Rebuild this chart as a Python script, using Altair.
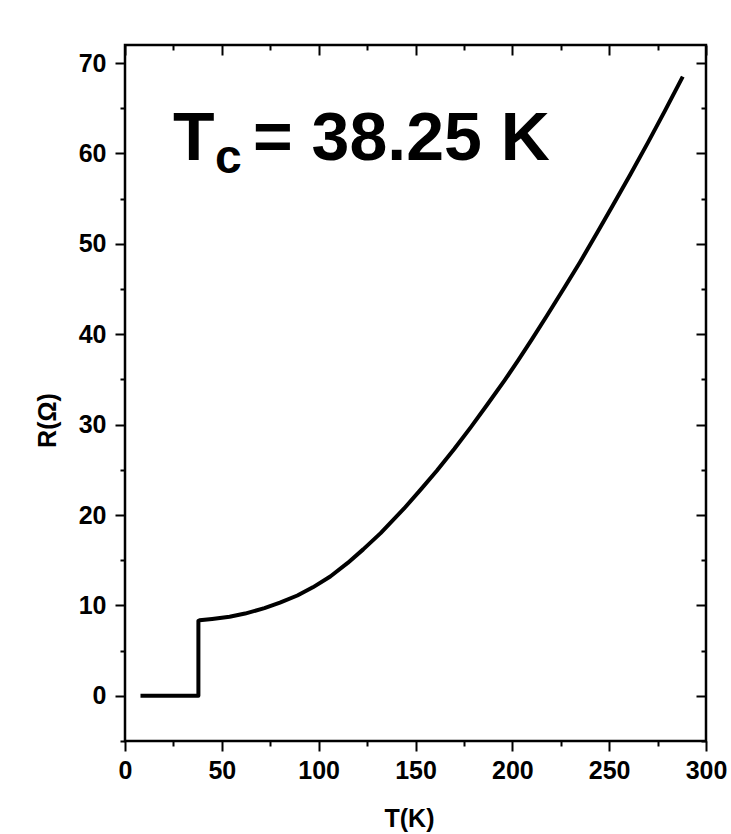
import altair as alt
import pandas as pd

# Resistance vs temperature
temperature_K = [8, 20, 30, 37.9, 37.9, 38.5, 45, 54, 62, 72, 80, 89, 97, 106,
                 115, 123, 132, 144, 153, 161, 170, 178.5, 187, 196, 203, 210,
                 218, 227, 235, 244, 252, 261, 270, 278.5, 288]
resistance_ohm = [0, 0, 0, 0, 8.3, 8.35, 8.5, 8.75, 9.1, 9.7, 10.3, 11.1, 12.0,
                  13.2, 14.7, 16.2, 18.0, 20.7, 22.9, 24.9, 27.3, 29.7, 32.2,
                  34.9, 37.1, 39.4, 42.1, 45.2, 48.0, 51.3, 54.3, 57.7, 61.2,
                  64.6, 68.5]

x_ticks = [0, 25, 50, 75, 100, 125, 150, 175, 200, 225, 250, 275, 300]
y_ticks = [-5, 0, 5, 10, 15, 20, 25, 30, 35, 40, 45, 50, 55, 60, 65, 70]
x_domain = [0, 300]
y_domain = [-5, 72]

annotation_main = "T"
annotation_sub = "c"
annotation_rest = "= 38.25 K"

df = pd.DataFrame({"T": temperature_K, "R": resistance_ohm,
                   "order": list(range(len(temperature_K)))})

W, H = 581, 696
FONT = "Liberation Sans"

tick_major_x = {"condition": {"test": "datum.value % 50 !== 0", "value": 5}, "value": 10}
tick_major_y = {"condition": {"test": "datum.value % 10 !== 0", "value": 5}, "value": 10}

x_scale = alt.Scale(domain=x_domain, nice=False, zero=False)
y_scale = alt.Scale(domain=y_domain, nice=False, zero=False)

main = alt.Chart(df).mark_line(color="black", strokeWidth=4, strokeJoin="round",
                               strokeCap="butt").encode(
    x=alt.X("T:Q", scale=x_scale,
            axis=alt.Axis(orient="bottom", values=x_ticks, title="T(K)",
                          labelExpr="datum.value % 50 === 0 ? datum.label : ''",
                          tickSize=tick_major_x, tickWidth=2, tickColor="black",
                          domain=False, grid=False, labelFont=FONT,
                          labelFontWeight="bold", labelFontSize=25,
                          labelColor="black", labelPadding=7,
                          titleFont=FONT, titleFontWeight="bold",
                          titleFontSize=25, titleColor="black",
                          titleX=284, titleY=85, titleBaseline="alphabetic",
                          labelFlush=False, labelOverlap=False)),
    y=alt.Y("R:Q", scale=y_scale,
            axis=alt.Axis(orient="left", values=y_ticks, title="R(Ω)",
                          labelExpr="datum.value % 10 === 0 ? datum.label : ''",
                          tickSize=tick_major_y, tickWidth=2, tickColor="black",
                          domain=False, grid=False, labelFont=FONT,
                          labelFontWeight="bold", labelFontSize=25,
                          labelColor="black", labelPadding=9,
                          titleFont=FONT, titleFontWeight="bold",
                          titleFontSize=25, titleColor="black",
                          titleX=-78, titleY=375, titleBaseline="middle",
                          labelFlush=False, labelOverlap=False)),
    order="order:Q",
)

ghost = alt.Chart(df).mark_line(opacity=0).encode(
    x=alt.X("T:Q", scale=x_scale,
            axis=alt.Axis(orient="bottom", offset=-H, values=x_ticks, title=None,
                          labels=False, domain=False, grid=False,
                          tickSize=tick_major_x, tickWidth=2, tickColor="black")),
    y=alt.Y("R:Q", scale=y_scale,
            axis=alt.Axis(orient="left", offset=-W, values=y_ticks, title=None,
                          labels=False, domain=False, grid=False,
                          tickSize=tick_major_y, tickWidth=2, tickColor="black")),
    order="order:Q",
)

one = pd.DataFrame({"a": [0]})
txt_T = alt.Chart(one).mark_text(font=FONT, fontWeight="bold", fontSize=68,
                                 align="left", baseline="alphabetic",
                                 color="black").encode(
    x=alt.value(48), y=alt.value(115), text=alt.value(annotation_main))
txt_c = alt.Chart(one).mark_text(font=FONT, fontWeight="bold", fontSize=48,
                                 align="left", baseline="alphabetic",
                                 color="black").encode(
    x=alt.value(90), y=alt.value(128), text=alt.value(annotation_sub))
txt_rest = alt.Chart(one).mark_text(font=FONT, fontWeight="bold", fontSize=68,
                                    align="left", baseline="alphabetic",
                                    color="black").encode(
    x=alt.value(128), y=alt.value(115), text=alt.value(annotation_rest))

chart = alt.layer(main, ghost, txt_T, txt_c, txt_rest).resolve_axis(
    x="independent", y="independent"
).properties(
    width=W, height=H,
    autosize=alt.AutoSizeParams(type="none"),
    padding={"left": 125, "top": 45, "right": 25, "bottom": 93},
    background="white",
).configure_view(stroke="black", strokeWidth=2.5)

chart.save("out.html", embed_options={"renderer": "svg", "actions": False})
